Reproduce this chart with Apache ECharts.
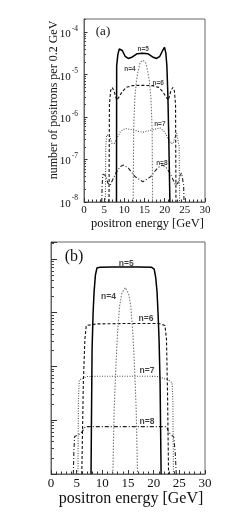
<!DOCTYPE html>
<html><head><meta charset="utf-8">
<script src="https://cdn.jsdelivr.net/npm/echarts@6/dist/echarts.min.js"></script>
<style>html,body{margin:0;padding:0;background:#fff}#c{width:249px;height:514px}</style>
</head><body><div id="c"></div>
<script>
// ---------- panel (a): number of positrons per 0.2 GeV vs positron energy [GeV] ----------
const a_n5_x = [8.05, 8.1, 8.4, 8.75, 9.1, 9.5, 10.2, 11.0, 12.0, 13.2, 14.5, 15.8, 17.0, 18.0, 18.8, 19.5, 19.95, 20.3, 20.55, 20.8, 21.0, 21.3];
const a_n5_y = [1e-8, 1.6e-5, 3.0e-5, 4.0e-5, 4.4e-5, 3.7e-5, 2.7e-5, 2.4e-5, 2.6e-5, 3.1e-5, 3.2e-5, 3.1e-5, 2.6e-5, 2.4e-5, 2.7e-5, 3.7e-5, 4.4e-5, 3.2e-5, 1.6e-5, 3.2e-6, 4.0e-7, 1e-8];
const a_n4_x = [12.2, 12.3, 12.6, 13.0, 13.4, 13.9, 14.6, 15.3, 15.8, 16.2, 16.6, 16.9, 17.0];
const a_n4_y = [1e-8, 5.0e-7, 2.8e-6, 7.1e-6, 1.2e-5, 1.9e-5, 2.2e-5, 1.9e-5, 1.2e-5, 7.1e-6, 2.8e-6, 5.0e-7, 1e-8];
const a_n6_x = [6.2, 6.3, 6.6, 7.0, 7.5, 8.1, 8.7, 9.5, 10.5, 12.0, 14.5, 17.0, 18.5, 19.5, 20.3, 20.9, 21.5, 22.0, 22.4, 22.7, 22.8];
const a_n6_y = [1e-8, 2.0e-6, 4.2e-6, 5.0e-6, 4.0e-6, 2.5e-6, 3.0e-6, 4.0e-6, 5.0e-6, 5.5e-6, 5.6e-6, 5.5e-6, 5.0e-6, 4.0e-6, 3.0e-6, 2.5e-6, 4.0e-6, 5.0e-6, 4.2e-6, 2.0e-6, 1e-8];
const a_n7_x = [5.3, 5.4, 5.6, 6.0, 6.4, 6.9, 7.5, 8.2, 9.0, 10.2, 12.0, 14.5, 17.0, 18.8, 20.0, 20.8, 21.5, 22.1, 22.6, 23.0, 23.4, 23.6, 23.7];
const a_n7_y = [1e-8, 2.0e-7, 3.8e-7, 4.2e-7, 3.5e-7, 2.4e-7, 2.4e-7, 3.2e-7, 4.5e-7, 5.4e-7, 5.0e-7, 4.4e-7, 5.0e-7, 5.6e-7, 4.5e-7, 3.2e-7, 2.4e-7, 2.4e-7, 3.5e-7, 4.2e-7, 3.8e-7, 2.0e-7, 1e-8];
const a_n8_x = [4.4, 4.5, 4.7, 5.0, 5.4, 5.9, 6.5, 7.2, 8.0, 9.0, 9.8, 11.0, 12.6, 14.6, 16.6, 18.2, 19.4, 20.2, 21.2, 22.0, 22.7, 23.3, 23.8, 24.2, 24.5, 24.7, 24.8];
const a_n8_y = [1e-8, 2.5e-8, 4.5e-8, 4.8e-8, 4.2e-8, 2.8e-8, 2.5e-8, 3.5e-8, 5.0e-8, 6.8e-8, 7.4e-8, 6.3e-8, 4.0e-8, 3.0e-8, 4.0e-8, 6.3e-8, 7.4e-8, 6.8e-8, 5.0e-8, 3.5e-8, 2.5e-8, 2.8e-8, 4.2e-8, 4.8e-8, 4.5e-8, 2.5e-8, 1e-8];
const a_labels = [[14.7, 4.0e-5, 'n=5'], [11.4, 1.35e-5, 'n=4'], [18.4, 6.3e-6, 'n=6'], [18.8, 6.8e-7, 'n=7'], [19.3, 8.1e-8, 'n=8']];

// ---------- panel (b) ----------
const b_n5_x = [7.8, 7.9, 8.0, 8.2, 8.4, 8.65, 8.95, 9.5, 12.0, 14.5, 17.0, 19.6, 20.1, 20.4, 20.65, 20.85, 21.05, 21.25, 21.45];
const b_n5_y = [1e-8, 1.6e-7, 2.0e-6, 1.0e-5, 2.5e-5, 5.0e-5, 6.8e-5, 7.0e-5, 7.1e-5, 7.1e-5, 7.1e-5, 7.0e-5, 6.5e-5, 4.5e-5, 2.5e-5, 1.0e-5, 3.2e-6, 5.0e-7, 1e-8];
const b_n4_x = [12.05, 12.3, 12.64, 12.96, 13.35, 13.8, 14.45, 15.1, 15.55, 15.94, 16.27, 16.6, 16.85];
const b_n4_y = [1e-8, 1.55e-7, 1.0e-6, 4.2e-6, 1.3e-5, 2.3e-5, 2.95e-5, 2.3e-5, 1.3e-5, 4.2e-6, 1.0e-6, 1.55e-7, 1e-8];
const b_n6_x = [6.0, 6.3, 6.6, 6.87, 9.0, 14.5, 21.0, 22.2, 22.5, 22.7, 22.9];
const b_n6_y = [1e-8, 5.0e-7, 3.2e-6, 5.8e-6, 6.2e-6, 6.3e-6, 6.3e-6, 5.8e-6, 3.2e-6, 3.2e-7, 1e-8];
const b_n7_x = [5.25, 5.35, 5.5, 7.0, 10.0, 14.5, 19.0, 20.8, 22.9, 23.6, 23.75, 23.85];
const b_n7_y = [1e-8, 2.5e-7, 5.6e-7, 6.5e-7, 6.6e-7, 6.6e-7, 6.6e-7, 6.5e-7, 5.6e-7, 5.0e-7, 2.0e-7, 1e-8];
const b_n8_x = [4.35, 4.45, 4.6, 5.5, 6.0, 6.7, 10.0, 14.5, 19.0, 22.55, 22.9, 23.9, 24.2, 24.4];
const b_n8_y = [1e-8, 2.5e-8, 5.0e-8, 5.5e-8, 6.0e-8, 7.6e-8, 7.6e-8, 7.6e-8, 7.6e-8, 7.6e-8, 6.0e-8, 4.9e-8, 2.5e-8, 1e-8];
const b_labels = [[14.65, 8.3e-5, 'n=5'], [11.2, 1.95e-5, 'n=4'], [18.5, 7.6e-6, 'n=6'], [18.7, 8.3e-7, 'n=7'], [18.7, 9.3e-8, 'n=8']];

// ---------- axes ----------
const decades = [-8, -7, -6, -5, -4];           // tick labels 10^-8 ... 10^-4
const minorMults = [2, 3, 4, 5, 6, 7, 8, 9];
const yBottom = 1e-8, yTopA = 2.04e-4, yTopB = 2.07e-4;
const xMin = 0, xMax = 30, xStep = 5;

const L = v => Math.log10(v);
const pts = (xs, ys) => xs.map((x, i) => [x, L(ys[i])]);
const minorFor = top => {
  const out = [];
  decades.forEach(d => minorMults.forEach(m => { const v = m * Math.pow(10, d); if (v <= top) out.push(L(v)); }));
  return out;
};

const SERIF = "'Liberation Serif','Times New Roman',serif";
const SANS = "'Liberation Sans',Arial,sans-serif";
const FRAME = '#666';
const TXT = '#111';

const styles = {
  n5: { color: '#000', width: 1.5, type: 'solid' },
  n4: { color: '#777', width: 1.1, type: [1.5, 1.5] },
  n6: { color: '#111', width: 1.1, type: [3, 2] },
  n7: { color: '#555', width: 1.1, type: [1, 1.5] },
  n8: { color: '#222', width: 1.1, type: [4, 2, 1, 2] }
};

function lineSeries(data, st, xi, yi) {
  return { type: 'line', xAxisIndex: xi, yAxisIndex: yi, data: data, symbol: 'none', silent: true,
    lineStyle: { color: st.color, width: st.width, type: st.type }, z: 3 };
}
function labelSeries(lbls, xi, yi, fs) {
  return { type: 'scatter', xAxisIndex: xi, yAxisIndex: yi, symbolSize: 1, silent: true,
    itemStyle: { color: 'rgba(0,0,0,0)' },
    data: lbls.map(l => [l[0], L(l[1]), l[2]]),
    label: { show: true, position: 'inside', formatter: p => p.data[2], fontFamily: SANS, fontSize: fs, fontWeight: 'bold', color: '#111' }, z: 5 };
}
function xAxisFor(gi, fs, name, nfs, gap, margin) {
  return { gridIndex: gi, type: 'value', min: xMin, max: xMax, interval: xStep,
    axisLine: { show: true, lineStyle: { color: FRAME, width: 1 } },
    axisTick: { show: true, inside: true, length: 4, lineStyle: { color: '#333' } },
    minorTick: { show: true, splitNumber: 5, length: 2.5, lineStyle: { color: '#333' } },
    splitLine: { show: false }, minorSplitLine: { show: false },
    axisLabel: { fontFamily: SERIF, fontSize: fs, color: TXT, margin: margin },
    name: name, nameLocation: 'middle', nameGap: gap,
    nameTextStyle: { fontFamily: SERIF, fontSize: nfs, color: TXT, padding: [0, 0, 0, 6] } };
}
function yMain(gi, top, showLabels, tickLen) {
  return { gridIndex: gi, type: 'value', min: L(yBottom), max: L(top), interval: 1, position: 'left',
    axisLine: { show: true, lineStyle: { color: FRAME, width: 1 } },
    axisTick: { show: true, inside: true, length: tickLen, lineStyle: { color: '#333' } },
    splitLine: { show: false },
    axisLabel: { show: showLabels, margin: 6,
      formatter: v => '{b|10}{s|' + Math.round(v) + '}',
      rich: {
        b: { fontFamily: SERIF, fontSize: 11, color: TXT, verticalAlign: 'bottom', lineHeight: 15 },
        s: { fontFamily: SERIF, fontSize: 7.5, color: TXT, verticalAlign: 'top', lineHeight: 15, padding: [0, 0, 0, 1] }
      } } };
}
function yMinor(gi, top, len) {
  return { gridIndex: gi, type: 'value', min: L(yBottom), max: L(top), position: 'left',
    axisLine: { show: false }, axisLabel: { show: false }, splitLine: { show: false },
    axisTick: { show: true, inside: true, length: len, customValues: minorFor(top), lineStyle: { color: '#444' } } };
}

const chart = echarts.init(document.getElementById('c'), null, { renderer: 'canvas' });
chart.setOption({
  animation: false,
  backgroundColor: '#fff',
  grid: [
    { left: 84, top: 19, width: 121, height: 183, show: true, borderColor: FRAME, borderWidth: 1, backgroundColor: 'transparent' },
    { left: 51, top: 242, width: 154, height: 232, show: true, borderColor: FRAME, borderWidth: 1, backgroundColor: 'transparent' }
  ],
  xAxis: [
    xAxisFor(0, 11, 'positron energy [GeV]', 12.5, 13, 3),
    xAxisFor(1, 13, 'positron energy [GeV]', 16, 15, 3)
  ],
  yAxis: [
    yMain(0, yTopA, true, 3.5),
    yMinor(0, yTopA, 2),
    yMain(1, yTopB, false, 6),
    yMinor(1, yTopB, 3)
  ],
  graphic: [
    { type: 'text', x: 54, y: 100, rotation: Math.PI / 2,
      style: { text: 'number of positrons per 0.2 GeV', font: '12px ' + SERIF, fill: TXT, align: 'center', verticalAlign: 'middle' } },
    { type: 'text', x: 103, y: 32, style: { text: '(a)', font: '13px ' + SERIF, fill: TXT, align: 'center', verticalAlign: 'middle' } },
    { type: 'text', x: 74, y: 257, style: { text: '(b)', font: '16px ' + SERIF, fill: TXT, align: 'center', verticalAlign: 'middle' } }
  ],
  series: [
    lineSeries(pts(a_n8_x, a_n8_y), styles.n8, 0, 0),
    lineSeries(pts(a_n7_x, a_n7_y), styles.n7, 0, 0),
    lineSeries(pts(a_n6_x, a_n6_y), styles.n6, 0, 0),
    lineSeries(pts(a_n4_x, a_n4_y), styles.n4, 0, 0),
    lineSeries(pts(a_n5_x, a_n5_y), styles.n5, 0, 0),
    labelSeries(a_labels, 0, 0, 6.5),
    lineSeries(pts(b_n8_x, b_n8_y), styles.n8, 1, 2),
    lineSeries(pts(b_n7_x, b_n7_y), styles.n7, 1, 2),
    lineSeries(pts(b_n6_x, b_n6_y), styles.n6, 1, 2),
    lineSeries(pts(b_n4_x, b_n4_y), styles.n4, 1, 2),
    lineSeries(pts(b_n5_x, b_n5_y), styles.n5, 1, 2),
    labelSeries(b_labels, 1, 2, 8.5)
  ]
});
</script>
</body></html>
